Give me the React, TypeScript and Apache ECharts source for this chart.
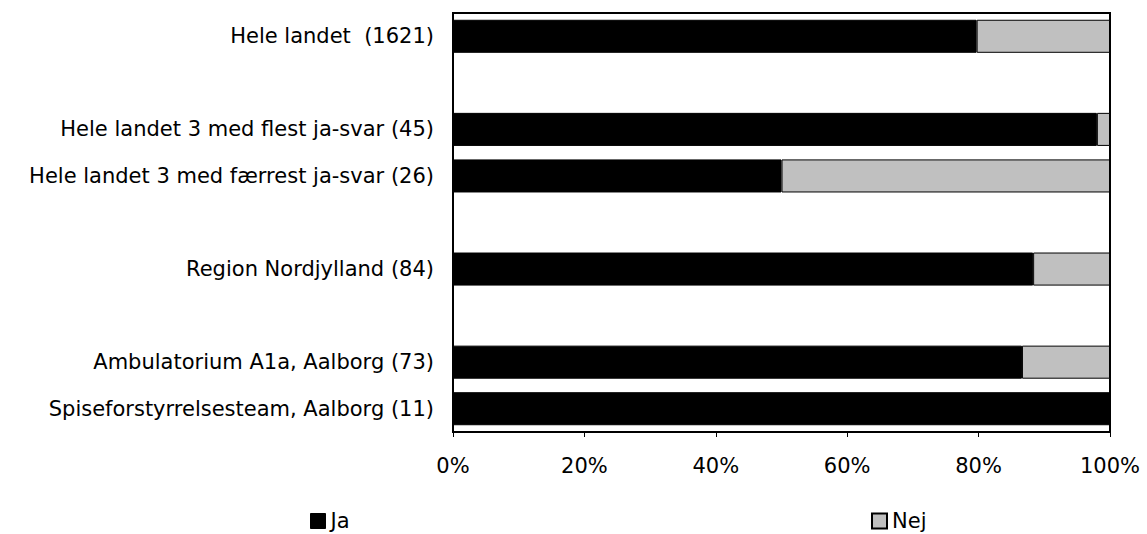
import React, { useEffect, useRef } from "react";
import * as echarts from "echarts";

const categories = [
  "Hele landet  (1621)",
  " ",
  "Hele landet 3 med flest ja-svar (45)",
  "Hele landet 3 med færrest ja-svar (26)",
  "  ",
  "Region Nordjylland (84)",
  "   ",
  "Ambulatorium A1a, Aalborg (73)",
  "Spiseforstyrrelsesteam, Aalborg (11)",
];
const jaValues: (number | string)[] = [79.7, "-", 98.0, 50.0, "-", 88.3, "-", 86.6, 100];
const nejValues: (number | string)[] = [20.3, "-", 2.0, 50.0, "-", 11.7, "-", 13.4, 0];
const xTicks = [0, 20, 40, 60, 80, 100];

const FONT = "DejaVu Sans";
const FS = 21;

export default function App() {
  const ref = useRef<HTMLDivElement>(null);
  useEffect(() => {
    if (!ref.current) return;
    const chart = echarts.init(ref.current, null, { renderer: "svg" });
    chart.setOption({
      animation: false,
      textStyle: { fontFamily: FONT },
      grid: {
        left: 453,
        top: 13,
        right: 37,
        bottom: 102,
        show: true,
        borderColor: "#000",
        borderWidth: 2,
        backgroundColor: "transparent",
      },
      legend: [
        {
          data: ["Ja"],
          left: 310,
          top: 509,
          padding: 0,
          icon: "rect",
          itemWidth: 15,
          itemHeight: 15,
          itemStyle: { borderColor: "#000", borderWidth: 1 },
          textStyle: { fontFamily: FONT, fontSize: FS, color: "#000", lineHeight: 24 },
        },
        {
          data: ["Nej"],
          left: 871,
          top: 509,
          padding: 0,
          icon: "rect",
          itemWidth: 15,
          itemHeight: 15,
          itemStyle: { borderColor: "#000", borderWidth: 2 },
          textStyle: { fontFamily: FONT, fontSize: FS, color: "#000", lineHeight: 24 },
        },
      ],
      xAxis: {
        type: "value",
        min: xTicks[0],
        max: xTicks[xTicks.length - 1],
        interval: 20,
        axisLine: { show: true, lineStyle: { color: "#000", width: 2 } },
        axisTick: { show: true, length: 5, lineStyle: { color: "#000", width: 1 } },
        splitLine: { show: false },
        axisLabel: {
          formatter: "{value}%",
          fontFamily: FONT,
          fontSize: FS,
          color: "#000",
          margin: 23,
        },
      },
      yAxis: {
        type: "category",
        inverse: true,
        data: categories,
        axisLine: { show: true, lineStyle: { color: "#000", width: 2 } },
        axisTick: { show: false },
        axisLabel: {
          fontFamily: FONT,
          fontSize: FS,
          color: "#000",
          margin: 19,
        },
      },
      series: [
        {
          name: "Ja",
          type: "bar",
          stack: "total",
          data: jaValues,
          barWidth: "71%",
          itemStyle: { color: "#000", borderColor: "#000", borderWidth: 1 },
        },
        {
          name: "Nej",
          type: "bar",
          stack: "total",
          data: nejValues,
          barWidth: "71%",
          itemStyle: { color: "#c0c0c0", borderColor: "#000", borderWidth: 1 },
        },
      ],
    });
    return () => chart.dispose();
  }, []);
  return <div ref={ref} style={{ width: 1147, height: 534, position: "absolute", left: 0, top: 0 }} />;
}
